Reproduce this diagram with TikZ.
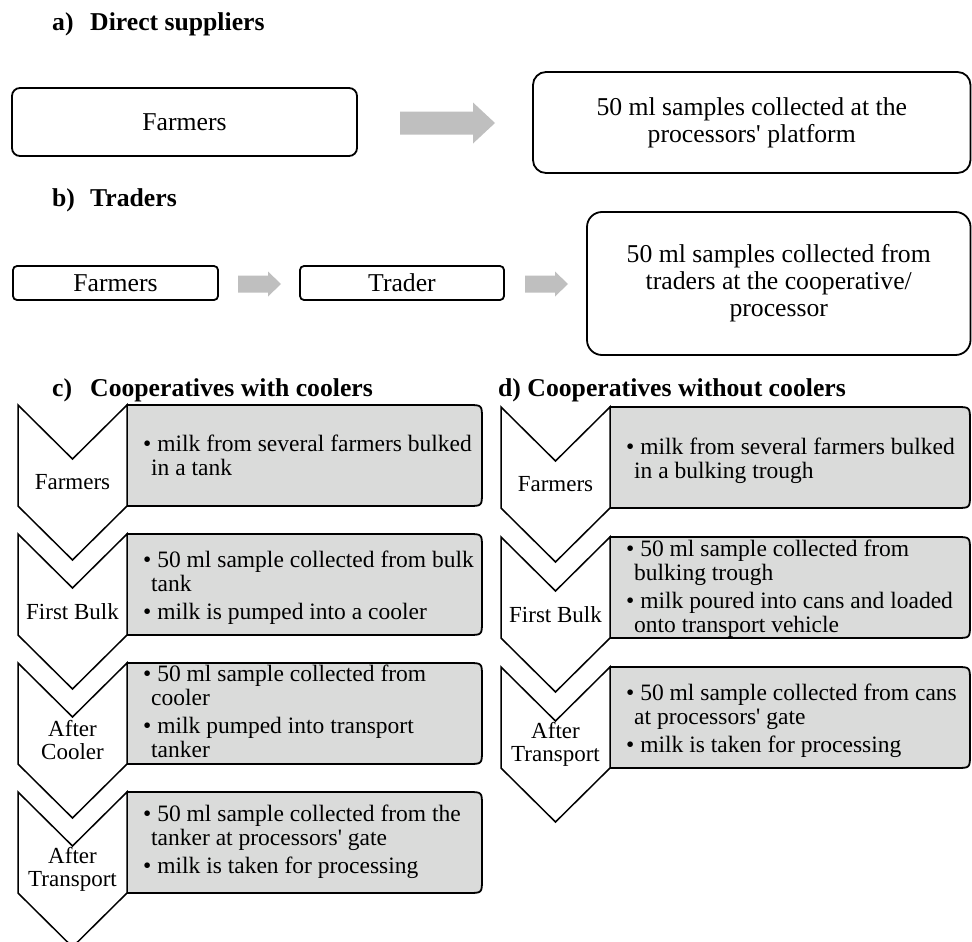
\documentclass[tikz,border=0pt]{standalone}
\usepackage{fontspec}
\setmainfont{Liberation Serif}
\definecolor{boxgray}{HTML}{DADBDA}
\definecolor{arrowgray}{HTML}{BFBFBF}
\newcommand{\stagerow}[7]{% left x, top y, box right x, name, label, text, text y shift
  \draw[boxline, fill=boxgray] ({#1+109},#2) -- ({#3-14},#2) .. controls (#3,#2) .. (#3,{#2+14}) -- (#3,{#2+87}) .. controls (#3,{#2+101}) .. ({#3-14},{#2+101}) -- ({#1+109},{#2+101}) -- cycle;
  \draw[chevline, fill=white] (#1,#2) -- ({#1+54.5},{#2+54}) -- ({#1+109},#2) -- ({#1+109},{#2+101}) -- ({#1+54.5},{#2+155}) -- (#1,{#2+101}) -- cycle;
  \node[chevtext] (#4l) at ({#1+54.5},{#2+77.5}) {#5};
  \node[bultext] (#4t) at ({#1+125},{#2+50.5+#7}) {#6};
}
\newcommand{\grayarrow}[7]{% name, x1, x2, cy, shaft half, head half, head length
  \fill[arrowgray] (#2,{#4-#5}) -- ({#3-#7},{#4-#5}) -- ({#3-#7},{#4-#6}) -- (#3,#4) -- ({#3-#7},{#4+#6}) -- ({#3-#7},{#4+#5}) -- (#2,{#4+#5}) -- cycle;
  \coordinate (#1) at ({(#2+#3)/2},#4);
}
\begin{document}
\begin{tikzpicture}[x=1pt,y=-1pt,
  boxline/.style={line width=1.8pt, line join=round},
  chevline/.style={line width=1.5pt, line join=miter},
  topbox/.style={draw, line width=1.8pt, inner sep=0pt, align=center,
    font=\fontsize{25.7}{27}\selectfont},
  chevtext/.style={inner sep=0pt, align=center, font=\fontsize{23}{23}\selectfont},
  bultext/.style={inner sep=0pt, anchor=west, align=left, font=\fontsize{23.5}{24}\selectfont},
  headtext/.style={inner sep=0pt, anchor=base west, font=\fontsize{25.7}{27}\selectfont\bfseries}]
\useasboundingbox (0,0) rectangle (972,942);

% headings
\node[headtext] (hal) at (52,31) {a)};
\node[headtext] (hat) at (90,31) {Direct suppliers};
\node[headtext] (hbl) at (52,206) {b)};
\node[headtext] (hbt) at (90,206) {Traders};
\node[headtext] (hcl) at (52,396) {c)};
\node[headtext] (hct) at (90,396) {Cooperatives with coolers};
\node[headtext] (hd) at (498,396) {d) Cooperatives without coolers};

% a) direct suppliers
\node[topbox, rounded corners=8pt, minimum width=345pt, minimum height=68pt] (afarm) at (184.5,122) {Farmers};
\node[topbox, rounded corners=13pt, minimum width=437.5pt, minimum height=101pt] (asamp) at (751.75,122.5)
  {50 ml samples collected at the\\processors\textquotesingle\ platform};
\grayarrow{arra}{400}{495}{123}{11.5}{20.5}{22}

% b) traders
\node[topbox, rounded corners=4pt, minimum width=205pt, minimum height=34pt] (bfarm) at (115.5,283) {Farmers};
\node[topbox, rounded corners=4pt, minimum width=204pt, minimum height=34pt] (btrad) at (402,283) {Trader};
\node[topbox, rounded corners=15pt, minimum width=383.5pt, minimum height=143pt] (bsamp) at (778.75,283.5)
  {50 ml samples collected from\\traders at the cooperative/\\processor};
\grayarrow{arrb1}{238}{281}{284}{8.5}{12.5}{13}
\grayarrow{arrb2}{525}{568}{284}{8.5}{12.5}{13}

% c) cooperatives with coolers
\stagerow{18}{405}{482}{c1}{Farmers}{\textbullet\ milk from several farmers bulked\\\hspace*{8pt}in a tank}{0}
\stagerow{18}{534}{482}{c2}{First Bulk}{\textbullet\ 50 ml sample collected from bulk\\\hspace*{8pt}tank\\[4pt]\textbullet\ milk is pumped into a cooler}{3}
\stagerow{18}{663}{482}{c3}{After\\Cooler}{\textbullet\ 50 ml sample collected from\\\hspace*{8pt}cooler\\[4pt]\textbullet\ milk pumped into transport\\\hspace*{8pt}tanker}{-2}
\stagerow{18}{792}{482}{c4}{After\\Transport}{\textbullet\ 50 ml sample collected from the\\\hspace*{8pt}tanker at processors\textquotesingle\ gate\\[4pt]\textbullet\ milk is taken for processing}{-1}

% d) cooperatives without coolers
\stagerow{501}{407}{970}{d1}{Farmers}{\textbullet\ milk from several farmers bulked\\\hspace*{8pt}in a bulking trough}{3}
\stagerow{501}{537}{970}{d2}{First Bulk}{\textbullet\ 50 ml sample collected from\\\hspace*{8pt}bulking trough\\[4pt]\textbullet\ milk poured into cans and loaded\\\hspace*{8pt}onto transport vehicle}{1}
\stagerow{501}{667}{970}{d3}{After\\Transport}{\textbullet\ 50 ml sample collected from cans\\\hspace*{8pt}at processors\textquotesingle\ gate\\[4pt]\textbullet\ milk is taken for processing}{3}
\end{tikzpicture}
\end{document}
